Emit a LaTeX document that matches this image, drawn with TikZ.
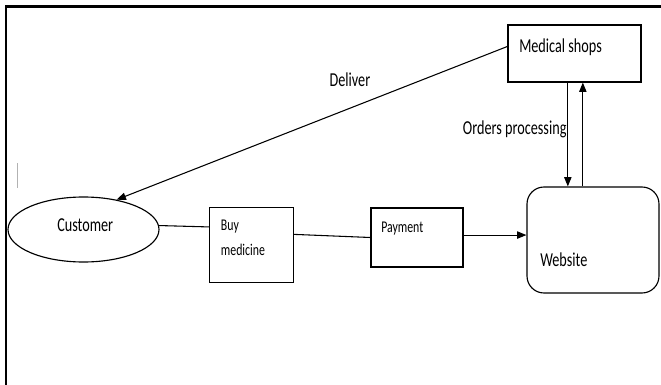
\documentclass[tikz,border=0pt]{standalone}
\usepackage{fontspec}
\setmainfont[FakeStretch=0.72]{Carlito}
\usetikzlibrary{shapes.geometric,arrows.meta,positioning}
\begin{document}
\begin{tikzpicture}[x=0.75pt,y=-0.75pt,
    box/.style={draw, line width=0.85pt, inner sep=0pt},
    txt/.style={inner sep=0pt, font=\fontsize{14.8}{16}\selectfont},
    small/.style={inner sep=0pt, font=\fontsize{12.3}{14}\selectfont},
    flow/.style={line width=0.8pt},
    arr/.style={flow, -{Triangle[length=7pt, width=5.5pt]}}]
    \useasboundingbox (0,0) rectangle (661,385);
    % Draw frame
    \draw [line width=1.6pt] (6,385) -- (6,6.5) -- (661,6.5);
    \draw [gray!60, line width=1pt] (17.8,163) -- (17.8,188);
    % Draw nodes
    \node [box, minimum width=99.75pt, minimum height=42.75pt] (shops) at (574.5,53.5) {};
    \node [box, ellipse, minimum width=113.25pt, minimum height=48.75pt] (cust) at (83.5,229.5) {};
    \node [box, minimum width=63pt, minimum height=56.25pt] (buy) at (251.5,245) {};
    \node [box, minimum width=69pt, minimum height=44.25pt] (pay) at (417,237.5) {};
    \node [box, rounded corners=12.75pt, minimum width=99pt, minimum height=79.5pt] (web) at (593,240) {};
    % Draw texts
    \node [txt, anchor=base west] (shopstext) at (519,53) {Medical shops};
    \node [txt, anchor=base west] (custtext) at (57,231.5) {Customer};
    \node [small, anchor=base west] (buytext) at (220.7,230.7) {Buy};
    \node [small, anchor=base west] (medtext) at (220.7,255) {medicine};
    \node [small, anchor=base west] (paytext) at (381,232) {Payment};
    \node [txt, anchor=base west] (webtext) at (540,266.7) {Website};
    \node [txt, anchor=base west] (deliver) at (329.3,86.7) {Deliver};
    \node [txt, anchor=base east] (orders) at (566.7,135) {Orders processing};
    % Draw connectors
    \draw [arr] (shops.174) -- (cust.42);
    \draw [flow] (cust.3) -- (buy.157);
    \draw [flow] (buy.14) -- (pay.west);
    \draw [arr] (pay.3) -- (pay.3 -| web.west);
    \draw [arr] ([xshift=-5pt]shops.south) -- ([xshift=-5pt]shops.south |- web.north);
    \draw [arr] ([xshift=6.25pt]shops.south |- web.north) -- ([xshift=6.25pt]shops.south);
\end{tikzpicture}
\end{document}
